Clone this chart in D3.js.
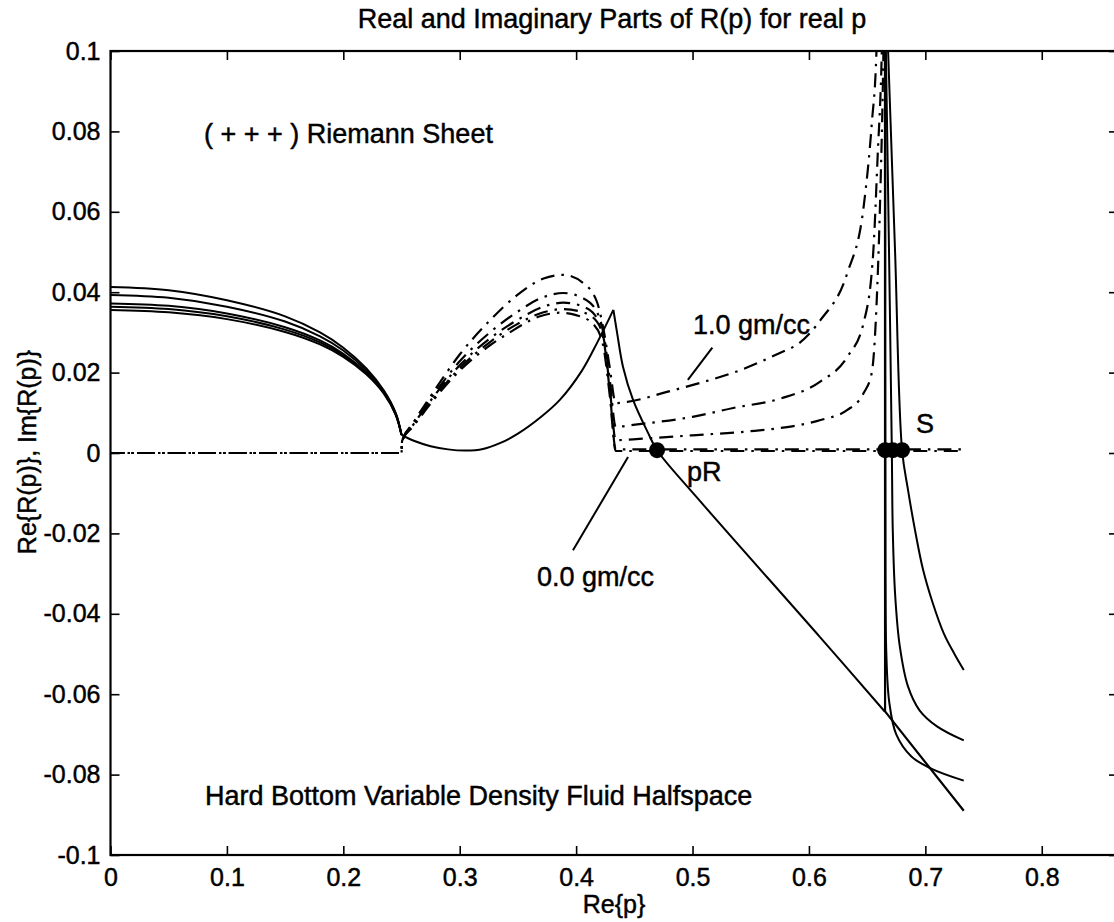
<!DOCTYPE html>
<html>
<head>
<meta charset="utf-8">
<script src="https://cdn.jsdelivr.net/npm/d3@7"></script>
<style>
  body { margin: 0; background: #fff; }
  svg { display: block; }
  text { font-family: "Liberation Sans", Arial, sans-serif; fill: #000; stroke: #000; stroke-width: 0.45px; }
</style>
</head>
<body>
<div id="graph"></div>
<script>
// tick values / labels
const xTicks = [0, 0.1, 0.2, 0.3, 0.4, 0.5, 0.6, 0.7, 0.8];
const xTickLabels = ["0", "0.1", "0.2", "0.3", "0.4", "0.5", "0.6", "0.7", "0.8"];
const yTicks = [-0.1, -0.08, -0.06, -0.04, -0.02, 0, 0.02, 0.04, 0.06, 0.08, 0.1];
const yTickLabels = ["-0.1", "-0.08", "-0.06", "-0.04", "-0.02", "0", "0.02", "0.04", "0.06", "0.08", "0.1"];

// Re{R(p)} below 0.25, one curve per density
const reX = [0, 0.05, 0.1, 0.15, 0.18, 0.2, 0.22, 0.235, 0.245, 0.25];
const reLeft1 = [0.0413, 0.0405, 0.0380, 0.0340, 0.0300, 0.0262, 0.0210, 0.0155, 0.0100, 0.0045];
const reLeft2 = [0.0393, 0.0386, 0.0364, 0.0327, 0.0290, 0.0255, 0.0205, 0.0152, 0.0098, 0.0045];
const reLeft3 = [0.0372, 0.0366, 0.0347, 0.0313, 0.0280, 0.0247, 0.0200, 0.0150, 0.0097, 0.0045];
const reLeft4 = [0.0364, 0.0358, 0.0340, 0.0307, 0.0275, 0.0243, 0.0197, 0.0148, 0.0096, 0.0045];
const reLeft5 = [0.0356, 0.0350, 0.0333, 0.0301, 0.0270, 0.0239, 0.0195, 0.0147, 0.0095, 0.0045];

// Re{R(p)} between 0.25 and the S pole
const reRise = [[0.25, 0.0045], [0.26, 0.0031], [0.275, 0.0017], [0.29, 0.0009], [0.305, 0.0006], [0.32, 0.0010],
  [0.335, 0.0025], [0.35, 0.0048], [0.37, 0.0090], [0.386, 0.0132], [0.405, 0.0205], [0.418, 0.0274], [0.432, 0.0356]];
const reFall = [[0.432, 0.0356], [0.4352, 0.0299], [0.4403, 0.0214], [0.4489, 0.0132], [0.4618, 0.005],
  [0.4695, 0.0007], [0.5039, -0.0111], [0.6095, -0.0458], [0.6651, -0.0643]];
const rePole = [[0.6653, 0.12], [0.6654, -0.0643], [0.733, -0.089]];
const reRight1 = [[0.668, 0.1], [0.674, 0.05], [0.680, 0.0007], [0.685, -0.009], [0.691, -0.019], [0.698, -0.029],
  [0.706, -0.037], [0.716, -0.045], [0.725, -0.050], [0.733, -0.054]];
const reRight2 = [[0.6661, 0.1], [0.6688, 0.05], [0.6712, 0.0007], [0.672, -0.019], [0.674, -0.035], [0.678, -0.048],
  [0.685, -0.058], [0.695, -0.064], [0.71, -0.068], [0.733, -0.0715]];
const reRight3 = [[0.6657, 0.1], [0.6658, -0.03], [0.6665, -0.05], [0.669, -0.062], [0.675, -0.070], [0.688, -0.0755],
  [0.705, -0.0785], [0.733, -0.0815]];

// Im{R(p)}, dash-dot
const im10 = [[0, 0], [0.25, 0], [0.2505, 0.003], [0.26, 0.0075], [0.277, 0.0150], [0.30, 0.0245], [0.326, 0.0330],
  [0.349, 0.0392], [0.372, 0.0434], [0.389, 0.0443], [0.406, 0.0423], [0.418, 0.0375], [0.424, 0.030], [0.429, 0.021],
  [0.434, 0.0124], [0.444, 0.0127], [0.478, 0.0152], [0.506, 0.0174], [0.54, 0.0205], [0.575, 0.0249], [0.592, 0.0274],
  [0.61, 0.0331], [0.633, 0.0448], [0.647, 0.0613], [0.654, 0.082], [0.658, 0.1], [0.6595, 0.12]];
const im075 = [[0, 0], [0.25, 0], [0.2505, 0.003], [0.26, 0.0072], [0.277, 0.0143], [0.30, 0.0228], [0.326, 0.0300],
  [0.349, 0.0350], [0.372, 0.0388], [0.389, 0.0398], [0.406, 0.0385], [0.418, 0.0350], [0.424, 0.029], [0.429, 0.018],
  [0.434, 0.0065], [0.449, 0.0070], [0.50, 0.0090], [0.535, 0.0112], [0.575, 0.0135], [0.61, 0.0178], [0.633, 0.0239],
  [0.647, 0.0324], [0.655, 0.0488], [0.659, 0.0737], [0.6626, 0.1], [0.664, 0.12]];
const im05 = [[0, 0], [0.25, 0], [0.2505, 0.003], [0.26, 0.0070], [0.277, 0.0138], [0.30, 0.0218], [0.326, 0.0285],
  [0.349, 0.0330], [0.372, 0.0364], [0.389, 0.0374], [0.406, 0.0364], [0.418, 0.0335], [0.424, 0.028], [0.429, 0.016],
  [0.434, 0.0032], [0.4635, 0.0037], [0.50, 0.0044], [0.549, 0.0054], [0.575, 0.0062], [0.61, 0.0082], [0.633, 0.0107],
  [0.647, 0.0149], [0.654, 0.020], [0.658, 0.0364], [0.661, 0.0613], [0.664, 0.1], [0.665, 0.12]];
const im025 = [[0, 0], [0.25, 0], [0.2505, 0.003], [0.26, 0.0068], [0.277, 0.0134], [0.30, 0.0211], [0.326, 0.0276],
  [0.349, 0.0320], [0.372, 0.0350], [0.389, 0.0358], [0.406, 0.0350], [0.418, 0.0326], [0.424, 0.0275], [0.429, 0.015],
  [0.434, 0.0009], [0.733, 0.0009]];
const im00 = [[0, 0], [0.25, 0], [0.2505, 0.003], [0.26, 0.0066], [0.277, 0.0130], [0.30, 0.0205], [0.326, 0.0268],
  [0.343, 0.0300], [0.369, 0.0340], [0.386, 0.0349], [0.40, 0.0343], [0.415, 0.0320], [0.423, 0.027], [0.429, 0.014],
  [0.434, 0.0005], [0.733, 0.0005]];
const imOffsets = [0, 0, 4, 0, 0];

// marked points: pR and the S poles
const pRPoint = [[0.4695, 0.0007]];
const sPoints = [[0.6655, 0.0007], [0.672, 0.0007], [0.680, 0.0007]];

// leader lines for the density labels
const leader10 = [[0.496, 0.0182], [0.517, 0.0262]];
const leader00 = [[0.3973, -0.0242], [0.4446, -0.001]];

const svg = d3.select('#graph').append('svg')
  .attr('width', 1114)
  .attr('height', 922);

const plot = {left: 110.5, top: 51, right: 1118, bottom: 855};

const x = d3.scaleLinear().domain([0, 0.8655]).range([plot.left, plot.right]);
const y = d3.scaleLinear().domain([-0.1, 0.1]).range([plot.bottom, plot.top]);

svg.append('clipPath').attr('id', 'clip')
  .append('rect')
  .attr('x', plot.left).attr('y', plot.top)
  .attr('width', plot.right - plot.left).attr('height', plot.bottom - plot.top);

const smooth = d3.line().x(d => x(d[0])).y(d => y(d[1])).curve(d3.curveCatmullRom.alpha(0.5));
const stepwise = d3.line().x(d => x(d[0])).y(d => y(d[1])).curve(d3.curveMonotoneX);
const straight = d3.line().x(d => x(d[0])).y(d => y(d[1]));

const lines = svg.append('g').attr('clip-path', 'url(#clip)');

const solid = [reLeft1, reLeft2, reLeft3, reLeft4, reLeft5].map(ys => ys.map((v, i) => [reX[i], v]))
  .concat([reRise, reFall, reRight1, reRight2, reRight3]);

lines.selectAll('.re')
  .data(solid)
  .enter().append('path')
  .attr('class', 're')
  .attr('d', smooth)
  .attr('fill', 'none')
  .attr('stroke', '#000')
  .attr('stroke-width', 2);

lines.append('path')
  .attr('d', straight(rePole))
  .attr('fill', 'none')
  .attr('stroke', '#000')
  .attr('stroke-width', 2.2);

lines.selectAll('.im')
  .data([im10, im075, im05, im025, im00])
  .enter().append('path')
  .attr('class', 'im')
  .attr('d', stepwise)
  .attr('fill', 'none')
  .attr('stroke', '#000')
  .attr('stroke-width', 2.2)
  .attr('stroke-dasharray', '14,7,2.5,7')
  .attr('stroke-dashoffset', (d, i) => imOffsets[i]);

svg.selectAll('.leader')
  .data([leader10, leader00])
  .enter().append('path')
  .attr('class', 'leader')
  .attr('d', straight)
  .attr('stroke', '#000')
  .attr('stroke-width', 2);

svg.selectAll('.dot')
  .data(pRPoint.concat(sPoints))
  .enter().append('circle')
  .attr('class', 'dot')
  .attr('cx', d => x(d[0]))
  .attr('cy', d => y(d[1]))
  .attr('r', 8)
  .attr('fill', '#000');

// axes, ticks inside on all four sides
const fontSize = 25;

function styleAxis(g) {
  g.select('.domain').remove();
  g.selectAll('.tick line').attr('stroke', '#000').attr('stroke-width', 1.6);
  g.selectAll('.tick text')
    .attr('font-size', fontSize)
    .attr('font-family', '"Liberation Sans", Arial, sans-serif')
    .attr('fill', '#000');
  g.attr('font-family', null).attr('font-size', null);
}

svg.append('g')
  .attr('transform', 'translate(0,' + plot.bottom + ')')
  .call(d3.axisBottom(x).tickValues(xTicks).tickFormat((d, i) => xTickLabels[i])
    .tickSizeInner(-9).tickSizeOuter(0).tickPadding(13))
  .call(styleAxis);

svg.append('g')
  .attr('transform', 'translate(' + plot.left + ',0)')
  .call(d3.axisLeft(y).tickValues(yTicks).tickFormat((d, i) => yTickLabels[i])
    .tickSizeInner(-9).tickSizeOuter(0).tickPadding(10))
  .call(styleAxis);

svg.append('g')
  .attr('transform', 'translate(0,' + plot.top + ')')
  .call(d3.axisTop(x).tickValues(xTicks).tickFormat('').tickSizeInner(-9).tickSizeOuter(0))
  .call(styleAxis);

svg.append('g')
  .attr('transform', 'translate(' + plot.right + ',0)')
  .call(d3.axisRight(y).tickValues(yTicks).tickFormat('').tickSizeInner(-9).tickSizeOuter(0))
  .call(styleAxis);

svg.append('rect')
  .attr('x', plot.left).attr('y', plot.top)
  .attr('width', plot.right - plot.left).attr('height', plot.bottom - plot.top)
  .attr('fill', 'none')
  .attr('stroke', '#000')
  .attr('stroke-width', 2.2);

// titles and annotations
svg.append('text')
  .attr('x', 612).attr('y', 28)
  .attr('text-anchor', 'middle')
  .attr('font-size', 27)
  .text('Real and Imaginary Parts of R(p) for real p');

svg.append('text')
  .attr('x', 614).attr('y', 913)
  .attr('text-anchor', 'middle')
  .attr('font-size', fontSize)
  .text('Re{p}');

svg.append('text')
  .attr('transform', 'translate(36,452) rotate(-90)')
  .attr('text-anchor', 'middle')
  .attr('font-size', fontSize)
  .text('Re{R(p)}, Im{R(p)}');

const notes = [
  {t: '( + + + ) Riemann Sheet', x: 204, y: 143},
  {t: 'Hard Bottom Variable Density Fluid Halfspace', x: 205, y: 805},
  {t: '1.0 gm/cc', x: 693, y: 334},
  {t: '0.0 gm/cc', x: 537, y: 586},
  {t: 'pR', x: 687, y: 481},
  {t: 'S', x: 916, y: 433}
];

svg.selectAll('.note')
  .data(notes)
  .enter().append('text')
  .attr('class', 'note')
  .attr('x', d => d.x)
  .attr('y', d => d.y)
  .attr('font-size', 27)
  .text(d => d.t);
</script>
</body>
</html>
